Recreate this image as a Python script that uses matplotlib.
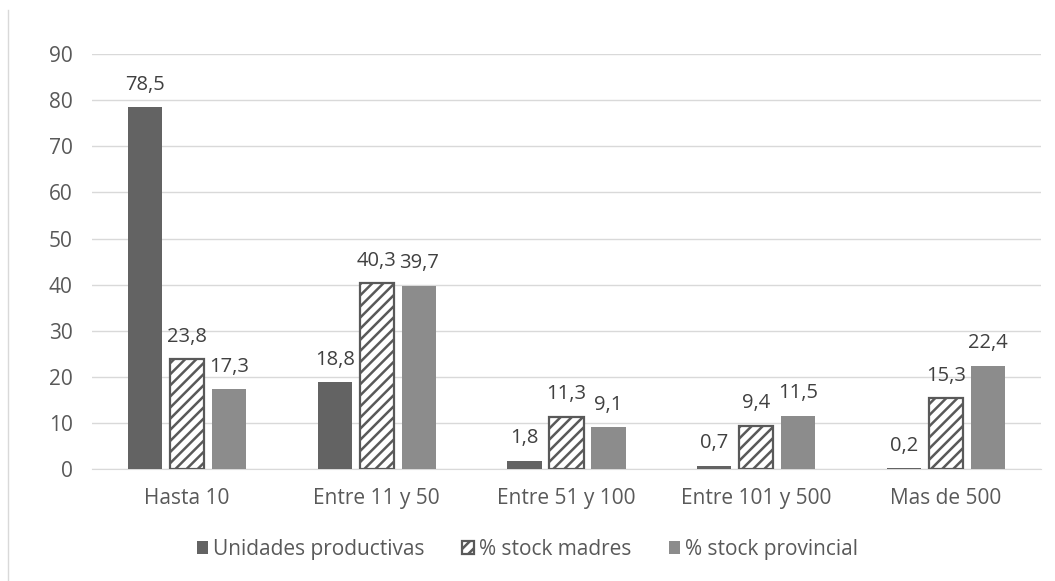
import matplotlib.pyplot as plt
import numpy as np
from matplotlib.lines import Line2D

plt.rcParams['font.family'] = ['Open Sans', 'DejaVu Sans']
plt.rcParams['hatch.linewidth'] = 1.8

categorias = ["Hasta 10", "Entre 11 y 50", "Entre 51 y 100", "Entre 101 y 500", "Mas de 500"]
unidades = [78.5, 18.8, 1.8, 0.7, 0.2]
stock_madres = [23.8, 40.3, 11.3, 9.4, 15.3]
stock_provincial = [17.3, 39.7, 9.1, 11.5, 22.4]

gris_txt = "#595959"

fig = plt.figure(figsize=(10.55, 5.81), dpi=100)
ax = fig.add_axes([0.0872, 0.1928, 0.8995, 0.714])

x = np.arange(len(categorias))
w = 0.18
paso = 0.221

b1 = ax.bar(x - paso, unidades, w, color="#636363", label="Unidades productivas", zorder=3)
b2 = ax.bar(x, stock_madres, w, color="white", edgecolor="#595959", hatch="///",
            linewidth=1.6, label="% stock madres", zorder=3)
b3 = ax.bar(x + paso, stock_provincial, w, color="#8c8c8c", label="% stock provincial", zorder=3)

def fmt(v):
    return f"{v:.1f}".replace(".", ",")

for barras, vals in [(b1, unidades), (b2, stock_madres), (b3, stock_provincial)]:
    for b, v in zip(barras, vals):
        ax.annotate(fmt(v), (b.get_x() + b.get_width() / 2, v), xytext=(0, 9),
                    textcoords="offset points", ha="center", va="bottom",
                    fontsize=14.5, color="#404040")

ax.set_ylim(0, 90)
ax.set_yticks(range(0, 91, 10))
ax.set_xlim(-0.5, len(categorias) - 0.5)
ax.set_xticks(x)
ax.set_xticklabels(categorias)
ax.yaxis.grid(True, color="#d9d9d9", linewidth=1, zorder=0)
ax.tick_params(axis="both", length=0, labelsize=15, labelcolor=gris_txt)
ax.tick_params(axis="y", pad=14)
ax.tick_params(axis="x", pad=14)
for s in ["top", "right", "left"]:
    ax.spines[s].set_visible(False)
ax.spines["bottom"].set_color("#d9d9d9")

fig.legend(handles=[b1, b2, b3], loc="center", bbox_to_anchor=(0.5, 0.054), ncol=3,
           frameon=False, fontsize=15, labelcolor=gris_txt, handlelength=0.55,
           handleheight=0.55, handletextpad=0.25, columnspacing=1.8)

fig.add_artist(Line2D([0.008, 0.008], [0.0, 0.983], transform=fig.transFigure,
                      color="#d9d9d9", linewidth=1))

fig.savefig("out.png", dpi=100)
plt.close()
